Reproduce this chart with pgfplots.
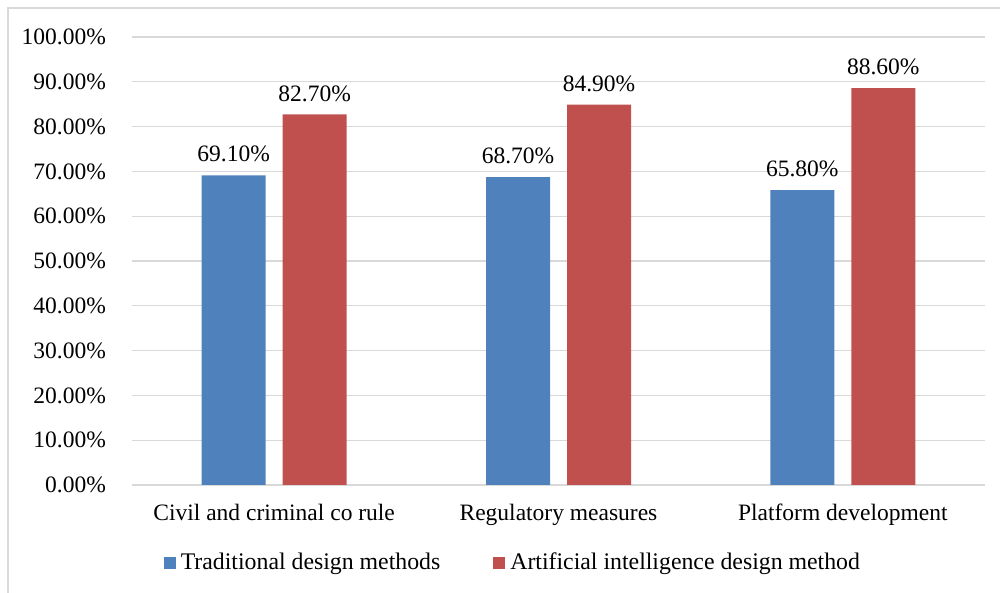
\documentclass[border=0pt]{standalone}
\usepackage{pgfplots}
\pgfplotsset{compat=1.18}
\usepackage{fontspec}
\setmainfont{Liberation Serif}
\definecolor{tblue}{HTML}{4F81BD}
\definecolor{tred}{HTML}{C0504D}
\definecolor{gridgray}{HTML}{D9D9D9}
\begin{document}
\fontsize{23.8}{28}\selectfont
\begin{tikzpicture}
\useasboundingbox (0pt,0pt) rectangle (1000pt,593pt);
\draw[gridgray, line width=1.5pt] (8pt,0pt) -- (8pt,585pt) -- (1000pt,585pt);
\begin{axis}[
  at={(132pt,108pt)}, anchor=south west,
  scale only axis, width=853pt, height=448pt,
  ybar=17pt, bar width=64pt,
  xmin=-0.5, xmax=2.5, ymin=0, ymax=100,
  xtick=data,
  xticklabels={Civil and criminal co rule, Regulatory measures, Platform development},
  ytick={0,10,...,100},
  yticklabel={\pgfmathprintnumber[fixed,fixed zerofill,precision=2]{\tick}\%},
  /pgf/number format/assume math mode=true,
  ymajorgrids, grid style={gridgray, line width=1.3pt},
  axis x line*=bottom, axis y line*=left,
  y axis line style={draw=none},
  x axis line style={gridgray, line width=1.5pt},
  major tick length=0pt,
  tick label style={font=\fontsize{23.5}{28}\selectfont, black},
  yticklabel style={xshift=-18pt},
  xticklabel style={yshift=-11pt},
  nodes near coords={\pgfmathprintnumber[fixed,fixed zerofill,precision=2]{\pgfplotspointmeta}\%},
  nodes near coords style={font=\fontsize{23.5}{28}\selectfont, black, anchor=south, yshift=5pt},
  legend style={at={(0.4465,-0.174)}, anchor=center, draw=none, legend columns=2,
    font=\fontsize{23.8}{28}\selectfont, /tikz/every even column/.append style={column sep=51pt}},
  legend image code/.code={\fill[#1] (0pt,-6pt) rectangle (12pt,6pt); \path (15pt,0pt);},
]
\addplot[fill=tblue, draw=none] coordinates {(0,69.1) (1,68.7) (2,65.8)};
\addplot[fill=tred, draw=none] coordinates {(0,82.7) (1,84.9) (2,88.6)};
\legend{Traditional design methods, Artificial intelligence design method}
\end{axis}
\end{tikzpicture}
\end{document}
